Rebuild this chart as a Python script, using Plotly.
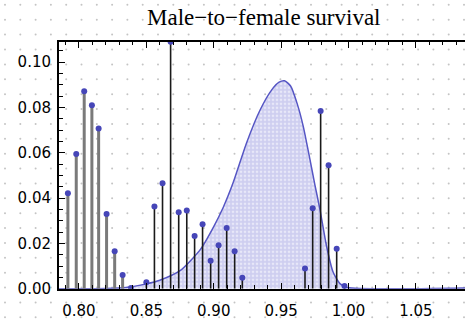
import numpy as np
import plotly.graph_objects as go

# Observed male-to-female survival ratios (stems)
ratio_x = [0.7918, 0.7980, 0.8039, 0.8096, 0.8146, 0.8205, 0.8265, 0.8324, 0.8386,
           0.8500, 0.8560, 0.8620, 0.8680, 0.8740, 0.8800, 0.8858, 0.8917, 0.8977,
           0.9036, 0.9096, 0.9155, 0.9212, 0.9677, 0.9734, 0.9793, 0.9852, 0.9912,
           0.9970]
ratio_p = [0.0422, 0.0595, 0.0872, 0.0810, 0.0708, 0.0330, 0.0166, 0.0061, 0.0004,
           0.0029, 0.0363, 0.0466, 0.1090, 0.0338, 0.0346, 0.0233, 0.0285, 0.0124,
           0.0192, 0.0269, 0.0166, 0.0049, 0.0090, 0.0356, 0.0785, 0.0545, 0.0177,
           0.0013]

# Smoothed density estimate
dens_x = [0.7852, 0.820, 0.835, 0.850, 0.860, 0.875, 0.890, 0.900, 0.907, 0.9145,
          0.9244, 0.9343, 0.943, 0.9485, 0.9525, 0.957, 0.962, 0.9664, 0.9714, 0.975,
          0.9788, 0.9837, 0.9886, 0.9936, 0.999, 1.0864]
dens_y = [0.0000, 0.0002, 0.0006, 0.0022, 0.0038, 0.0080, 0.0173, 0.0275, 0.0359, 0.0470,
          0.0645, 0.0788, 0.0878, 0.0912, 0.0918, 0.0895, 0.0815, 0.0717, 0.0570, 0.0460,
          0.0350, 0.0188, 0.0073, 0.0023, 0.0006, 0.0004]

x_ticks = [0.80, 0.85, 0.90, 0.95, 1.00, 1.05]
y_ticks = [0.00, 0.02, 0.04, 0.06, 0.08, 0.10]

W, H = 465, 328
L, T, B = 59, 43, 31

fig = go.Figure()

# faint dotted page texture on a full-page helper subplot
gx, gy = np.meshgrid(np.arange(5, W, 15.3), np.arange(5, H, 15.3))
fig.add_trace(go.Scatter(x=gx.ravel(), y=(H - gy).ravel(), mode="markers",
                         marker=dict(size=2, color="#c4c4c4"),
                         hoverinfo="skip", showlegend=False,
                         xaxis="x", yaxis="y"))

# density curve with filled area
fig.add_trace(go.Scatter(x=dens_x, y=dens_y, mode="lines",
                         line=dict(color="#5656c4", width=1.5, shape="spline", smoothing=0.6),
                         fill="tozeroy", fillcolor="rgb(212,212,242)",
                         fillpattern=dict(shape=".", bgcolor="rgb(206,206,240)",
                                          fgcolor="white", size=4, solidity=0.35),
                         hoverinfo="skip", showlegend=False,
                         xaxis="x2", yaxis="y2"))

# stems: left cluster drawn gray, the rest black
def stem_coords(xs, ps):
    sx, sy = [], []
    for xv, pv in zip(xs, ps):
        sx += [xv, xv, None]
        sy += [0, pv, None]
    return sx, sy

left = [(xv, pv) for xv, pv in zip(ratio_x, ratio_p) if xv < 0.845]
right = [(xv, pv) for xv, pv in zip(ratio_x, ratio_p) if xv >= 0.845]
lx, ly = stem_coords([a for a, _ in left], [b for _, b in left])
rx, ry = stem_coords([a for a, _ in right], [b for _, b in right])
fig.add_trace(go.Scatter(x=lx, y=ly, mode="lines", line=dict(color="#7a7a7a", width=3),
                         hoverinfo="skip", showlegend=False, xaxis="x2", yaxis="y2"))
fig.add_trace(go.Scatter(x=rx, y=ry, mode="lines", line=dict(color="#1a1a1a", width=1.6),
                         hoverinfo="skip", showlegend=False, xaxis="x2", yaxis="y2"))
fig.add_trace(go.Scatter(x=ratio_x, y=ratio_p, mode="markers",
                         marker=dict(size=6, color="#4646b8"),
                         hoverinfo="skip", showlegend=False, xaxis="x2", yaxis="y2"))

tickfont = dict(family="DejaVu Sans", size=15, color="black")
fig.update_layout(
    width=W, height=H,
    margin=dict(l=0, r=0, t=0, b=0),
    paper_bgcolor="white", plot_bgcolor="rgba(0,0,0,0)",
    xaxis=dict(domain=[0, 1], range=[0, W], visible=False, fixedrange=True),
    yaxis=dict(domain=[0, 1], range=[0, H], visible=False, fixedrange=True),
    xaxis2=dict(domain=[L / W, 1], anchor="y2", range=[0.7852, 1.0864],
                tickvals=x_ticks, ticktext=[f"{v:.2f}" for v in x_ticks],
                ticks="inside", ticklen=6, tickwidth=1, tickcolor="black",
                minor=dict(dtick=0.01, tick0=0.8, ticks="inside", ticklen=3.5,
                           tickwidth=1, tickcolor="black", showgrid=False),
                showline=True, linewidth=2, linecolor="black", mirror="ticks",
                showgrid=False, zeroline=False, tickfont=tickfont,
                ticklabelstandoff=7),
    yaxis2=dict(domain=[B / H, (H - T) / H], anchor="x2", range=[0, 0.109],
                tickvals=y_ticks, ticktext=[f"{v:.2f}" for v in y_ticks],
                ticks="inside", ticklen=6, tickwidth=1, tickcolor="black",
                minor=dict(dtick=0.005, tick0=0, ticks="inside", ticklen=3.5,
                           tickwidth=1, tickcolor="black", showgrid=False),
                showline=True, linewidth=2, linecolor="black", mirror=False,
                showgrid=False, zeroline=False, tickfont=tickfont,
                ticklabelstandoff=3),
    annotations=[dict(text="Male\u2212to\u2212female survival", xref="paper", yref="paper",
                      x=264 / W, y=1 - 18 / H, xanchor="center", yanchor="middle",
                      showarrow=False,
                      font=dict(family="Liberation Serif", size=23, color="black"))],
)

fig.write_html("out.html")
